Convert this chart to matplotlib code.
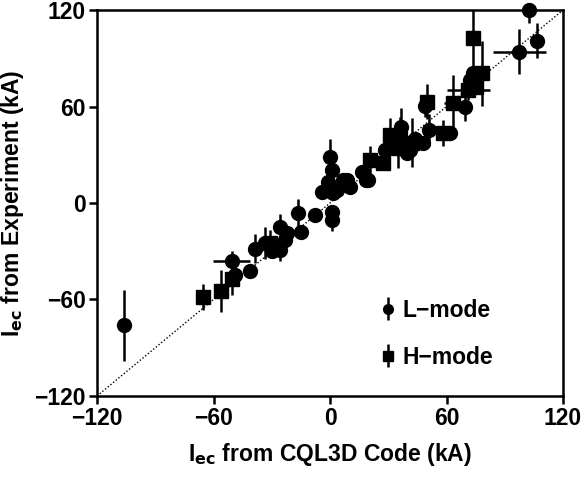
import matplotlib
matplotlib.use("Agg")
import matplotlib.pyplot as plt

plt.rcParams['font.family'] = ['Liberation Sans Narrow', 'Liberation Sans', 'DejaVu Sans']
plt.rcParams['font.weight'] = 'bold'
plt.rcParams['axes.labelweight'] = 'bold'
plt.rcParams['mathtext.fontset'] = 'custom'
plt.rcParams['mathtext.rm'] = 'Liberation Sans Narrow:bold'
plt.rcParams['mathtext.it'] = 'Liberation Sans Narrow:bold'
plt.rcParams['mathtext.bf'] = 'Liberation Sans Narrow:bold'

# L-mode shots (circles): code current, measured current, errors (kA)
l_x = [-106, -50.6, -48.9, -41, -38.6, -33.5, -30, -25.8, -28, -23,
       -25.8, -22.3, -16.3, -15.1, -7.7, -4.3, 0, 0.8, -0.9, 1.7,
       0.8, 0.8, 6.8, 10.3, 16.3, 19.7, 18.4, 8.6, 3.5,
       102.6, 106.7, 97.5, 73.8, 72.1, 69.5, 61.8, 51.1, 48.9, 48,
       43.7, 36, 28.3, 39.5, 32, 34, 38, 30, 41, 36.5, 44]
l_y = [-76, -36, -45, -42, -28.5, -25, -30, -29.3, -27, -23,
       -14.8, -18.9, -6.4, -17.9, -7.5, 7.0, 28.8, 20.5, 13.2, 6.0,
       -5.4, -10.6, 14.3, 10.1, 19.4, 14.3, 14.3, 14.3, 8,
       120, 101, 94, 81, 76.5, 60, 43.3, 45.4, 60.3, 37,
       37, 43.3, 32.9, 31, 36, 40, 38, 34, 33, 47, 40]
l_xerr = [0, 9.6, 0, 0, 0, 0, 0, 0, 0, 0,
          0, 0, 0, 0, 0, 0, 0, 0, 0, 0,
          0, 0, 0, 0, 0, 0, 0, 0, 0,
          0, 0, 13.7, 0, 0, 0, 0, 0, 0, 0,
          0, 0, 0, 0, 0, 0, 0, 0, 0, 0, 0]
l_yerr = [22, 6, 0, 0, 9, 10, 0, 7, 0, 0,
          8, 0, 9, 0, 0, 0, 11, 0, 0, 0,
          0, 7, 0, 0, 0, 0, 0, 0, 0,
          8, 11, 14, 0, 0, 9, 0, 10, 7, 0,
          0, 10, 0, 0, 0, 0, 0, 0, 0, 12, 0]

# H-mode shots (squares)
h_x = [-65.3, -56.3, -50.6, -31, 20.6, 27.4, 30.9, 35.2, 42, 49.7,
       58.3, 63.5, 71.2, 78.1, 73.8, 75]
h_y = [-58.3, -54.7, -47.5, -25, 26.7, 24.7, 42, 34.5, 37.6, 63,
       43.3, 62, 70.2, 80.6, 102.4, 72]
h_xerr = [0, 0, 0, 0, 0, 0, 0, 0, 0, 0,
          0, 5, 11, 4, 0, 0]
h_yerr = [8, 13, 10, 8, 9, 0, 11, 13, 15, 11,
          8, 17.6, 6, 20, 18, 0]

fig = plt.figure(figsize=(5.82, 4.86), dpi=100)
ax = fig.add_axes([0.1667, 0.1852, 0.8007, 0.7942])

ax.plot([-120, 120], [-120, 120], ls=(0, (1, 1.5)), color='black', lw=1.0)

el = ax.errorbar(l_x, l_y, xerr=l_xerr, yerr=l_yerr, fmt='o', color='black',
                 ms=10, elinewidth=1.8, capsize=0)
eh = ax.errorbar(h_x, h_y, xerr=h_xerr, yerr=h_yerr, fmt='s', color='black',
                 ms=9.5, elinewidth=1.8, capsize=0)
for c in (el, eh):
    c.lines[0].set_clip_on(False)

# legend proxies: vertical bar only
pl = ax.errorbar([float('nan')], [float('nan')], yerr=[1], fmt='o', color='black',
                 ms=10, elinewidth=1.8, capsize=0, label='L\u2212mode')
ph = ax.errorbar([float('nan')], [float('nan')], yerr=[1], fmt='s', color='black',
                 ms=9.5, elinewidth=1.8, capsize=0, label='H\u2212mode')

ax.set_xlim(-120, 120)
ax.set_ylim(-120, 120)
ax.set_xticks([-120, -60, 0, 60, 120])
ax.set_yticks([-120, -60, 0, 60, 120])
ax.set_xticklabels(['\u2212120', '\u221260', '0', '60', '120'])
ax.set_yticklabels(['\u2212120', '\u221260', '0', '60', '120'])
ax.tick_params(direction='out', length=6, width=1.8, labelsize=16.5, pad=2,
               top=False, right=False)
for s in ax.spines.values():
    s.set_linewidth(1.8)

ax.set_xlabel(r'I$_{\rm ec}$ from CQL3D Code (kA)', fontsize=16.5, labelpad=8)
ax.set_ylabel(r'I$_{\rm ec}$ from Experiment (kA)', fontsize=16.5, labelpad=6)

ax.legend(handles=[pl, ph], loc='upper left', bbox_to_anchor=(0.565, 0.305),
          frameon=False, fontsize=16.5, handlelength=0.6, markerscale=0.7,
          labelspacing=1.05, handletextpad=0.35)

fig.savefig('out.png', dpi=100)
